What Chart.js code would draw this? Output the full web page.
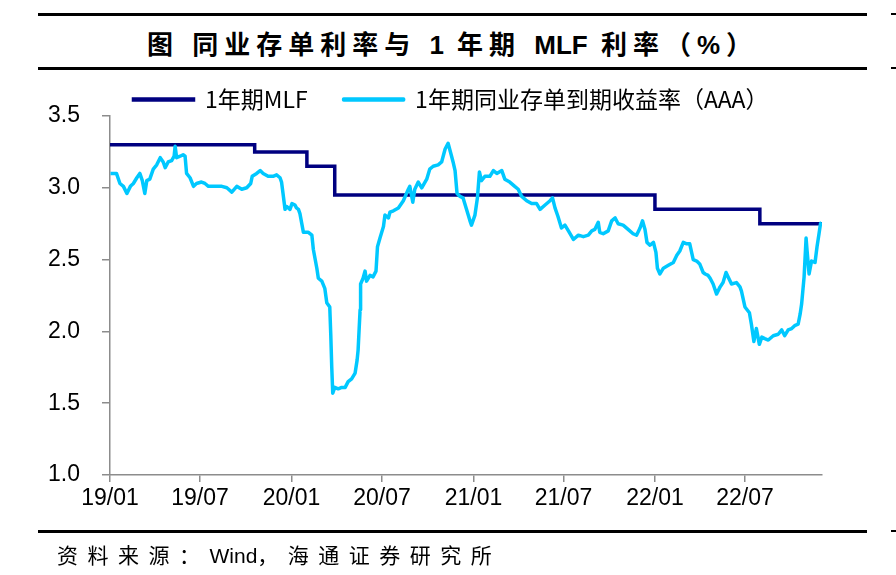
<!DOCTYPE html>
<html>
<head>
<meta charset="utf-8">
<script src="https://cdn.jsdelivr.net/npm/chart.js@4/dist/chart.umd.min.js"></script>
<style>
  body { margin: 0; background: #fff; }
  #wrap { position: relative; width: 896px; height: 575px; overflow: hidden; }
  .rule { position: absolute; left: 38px; width: 829px; height: 3px; background: #000; }
  .edge { position: absolute; left: 891px; width: 5px; height: 2px; background: #000; }
  #title {
    position: absolute; left: 38px; width: 829px; top: 24px; height: 36px; line-height: 36px;
    text-align: center; font: bold 26px "Liberation Sans", "Noto Sans CJK SC", sans-serif;
    letter-spacing: 6px; color: #000;
  }
  #source {
    position: absolute; left: 57px; top: 539px; line-height: 26px;
    font: 21px "Liberation Sans", "Noto Sans CJK SC", sans-serif; letter-spacing: 9.5px; color: #000;
  }
  .lat { letter-spacing: 0; }
  canvas { position: absolute; left: 0; top: 0; }
</style>
</head>
<body>
<div id="wrap">
  <div class="rule" style="top:13px"></div>
  <div class="rule" style="top:67px"></div>
  <div class="rule" style="top:530px"></div>
  <div class="edge" style="top:13px"></div>
  <div class="edge" style="top:67px"></div>
  <div class="edge" style="top:530px"></div>
  <div id="title">图 同业存单利率与 <span class="lat">1</span> 年期 <span class="lat">MLF</span> 利率（%）</div>
  <canvas id="myChart" width="896" height="575"></canvas>
  <div id="source">资料来源：<span class="lat">Wind</span>，海通证券研究所</div>
</div>
<script>
// 1年期MLF（调整日期与利率）
const mlfDates = ['2019-01-01', '2019-10-19', '2020-02-01', '2020-03-28', '2022-01-01', '2022-07-31', '2022-12-03'];
const mlfValues = [3.30, 3.25, 3.15, 2.95, 2.85, 2.75, 2.75];

// 1年期同业存单到期收益率（AAA）
const ncdDates = [
  '2019-01-02','2019-01-14','2019-01-21','2019-01-28','2019-02-04','2019-02-11','2019-02-17','2019-02-24',
  '2019-03-02','2019-03-07','2019-03-12','2019-03-16','2019-03-22','2019-03-29','2019-04-05','2019-04-12',
  '2019-04-18','2019-04-22','2019-04-28','2019-05-05','2019-05-10','2019-05-12','2019-05-15','2019-05-22',
  '2019-05-28','2019-06-01','2019-06-04','2019-06-11','2019-06-18','2019-06-24','2019-07-04','2019-07-11',
  '2019-07-18','2019-07-31','2019-08-14','2019-08-24','2019-09-03','2019-09-13','2019-09-23','2019-10-03',
  '2019-10-11','2019-10-14','2019-10-23','2019-10-30','2019-11-05','2019-11-15','2019-11-25','2019-12-02',
  '2019-12-09','2019-12-12','2019-12-15','2019-12-19','2019-12-22','2019-12-29','2020-01-02','2020-01-08',
  '2020-01-11','2020-01-15','2020-01-18','2020-01-25','2020-02-04','2020-02-11','2020-02-14','2020-02-21',
  '2020-02-24','2020-03-02','2020-03-08','2020-03-12','2020-03-18','2020-03-20','2020-03-22','2020-03-24',
  '2020-03-28','2020-04-04','2020-04-11','2020-04-18','2020-04-24','2020-05-01','2020-05-08','2020-05-12',
  '2020-05-14','2020-05-18','2020-05-19','2020-05-24','2020-05-28','2020-05-31','2020-06-07','2020-06-13',
  '2020-06-19','2020-06-22','2020-06-27','2020-07-04','2020-07-07','2020-07-14','2020-07-17','2020-07-24',
  '2020-08-03','2020-08-13','2020-08-23','2020-08-26','2020-09-01','2020-09-05','2020-09-12','2020-09-19',
  '2020-09-29','2020-10-05','2020-10-12','2020-10-22','2020-10-29','2020-11-05','2020-11-11','2020-11-18',
  '2020-11-21','2020-11-25','2020-11-29','2020-12-05','2020-12-11','2020-12-18','2020-12-25','2020-12-28',
  '2021-01-04','2021-01-09','2021-01-13','2021-01-17','2021-01-24','2021-02-03','2021-02-10','2021-02-17',
  '2021-02-27','2021-03-05','2021-03-15','2021-03-25','2021-04-01','2021-04-08','2021-04-18','2021-04-28',
  '2021-05-08','2021-05-15','2021-05-25','2021-06-04','2021-06-09','2021-06-14','2021-06-20','2021-06-27',
  '2021-07-04','2021-07-11','2021-07-21','2021-07-31','2021-08-10','2021-08-20','2021-08-27','2021-09-02',
  '2021-09-09','2021-09-12','2021-09-19','2021-09-29','2021-10-06','2021-10-13','2021-10-19','2021-10-29',
  '2021-11-08','2021-11-18','2021-11-25','2021-12-02','2021-12-07','2021-12-12','2021-12-16','2021-12-22',
  '2021-12-29','2022-01-03','2022-01-06','2022-01-11','2022-01-18','2022-01-28','2022-02-07','2022-02-14',
  '2022-02-20','2022-02-27','2022-03-06','2022-03-12','2022-03-19','2022-03-26','2022-04-01','2022-04-08',
  '2022-04-12','2022-04-18','2022-04-22','2022-04-28','2022-05-05','2022-05-12','2022-05-18','2022-05-24',
  '2022-05-28','2022-06-04','2022-06-14','2022-06-21','2022-06-24','2022-07-01','2022-07-10','2022-07-14',
  '2022-07-19','2022-07-24','2022-07-30','2022-08-04','2022-08-10','2022-08-17','2022-08-27','2022-09-06',
  '2022-09-13','2022-09-19','2022-09-26','2022-10-03','2022-10-09','2022-10-16','2022-10-20','2022-10-23',
  '2022-10-28','2022-11-01','2022-11-03','2022-11-07','2022-11-12','2022-11-19','2022-11-23','2022-11-27',
  '2022-11-30','2022-12-02'
];
const ncdValues = [
  3.10,3.10,3.03,3.01,2.96,3.01,3.03,3.07,
  3.10,3.05,2.96,3.05,3.06,3.13,3.16,3.21,
  3.18,3.14,3.18,3.19,3.22,3.29,3.21,3.22,
  3.23,3.22,3.10,3.07,3.01,3.03,3.04,3.03,
  3.01,3.01,3.01,3.00,2.97,3.01,2.99,3.00,
  3.03,3.08,3.10,3.12,3.10,3.08,3.08,3.09,
  3.07,3.04,2.96,2.85,2.87,2.85,2.89,2.88,
  2.86,2.85,2.82,2.69,2.69,2.67,2.57,2.44,
  2.37,2.35,2.30,2.20,2.17,1.98,1.75,1.57,
  1.61,1.60,1.61,1.61,1.65,1.67,1.71,1.80,
  1.87,2.15,2.33,2.37,2.42,2.35,2.39,2.38,
  2.42,2.59,2.65,2.73,2.81,2.79,2.83,2.84,
  2.86,2.91,2.99,3.01,2.90,2.99,3.04,3.00,
  3.06,3.13,3.15,3.16,3.18,3.27,3.31,3.22,
  3.18,3.12,2.96,2.94,2.93,2.85,2.77,2.74,
  2.81,2.93,3.11,3.05,3.08,3.08,3.12,3.10,
  3.12,3.06,3.04,3.01,2.99,2.94,2.91,2.89,
  2.89,2.85,2.88,2.91,2.93,2.86,2.80,2.72,
  2.74,2.70,2.64,2.67,2.66,2.67,2.70,2.71,
  2.76,2.69,2.68,2.70,2.77,2.79,2.75,2.74,
  2.71,2.68,2.67,2.72,2.77,2.71,2.62,2.60,
  2.62,2.55,2.44,2.40,2.44,2.46,2.48,2.53,
  2.56,2.62,2.61,2.61,2.50,2.49,2.47,2.41,
  2.40,2.39,2.37,2.33,2.26,2.31,2.34,2.41,
  2.38,2.33,2.34,2.31,2.28,2.17,2.13,2.05,
  1.93,2.02,1.91,1.96,1.95,1.94,1.97,1.98,
  2.01,1.97,2.01,2.02,2.04,2.05,2.12,2.19,
  2.38,2.65,2.56,2.40,2.49,2.48,2.59,2.68,
  2.75,2.76
];

// x轴刻度
const tickDates = ['2019-01-01', '2019-07-01', '2020-01-01', '2020-07-01', '2021-01-01', '2021-07-01', '2022-01-01', '2022-07-01'];
const tickLabels = ['19/01', '19/07', '20/01', '20/07', '21/01', '21/07', '22/01', '22/07'];
const endDate = '2022-12-03';

// 日期 -> 距 2019-01-01 的天数
const day0 = Date.UTC(2019, 0, 1);
const toDay = s => {
  const p = s.split('-');
  return (Date.UTC(+p[0], +p[1] - 1, +p[2]) - day0) / 86400000;
};
const tickDays = tickDates.map(toDay);

const mlfData = mlfDates.map((d, i) => ({ x: toDay(d), y: mlfValues[i] }));
const ncdData = ncdDates.map((d, i) => ({ x: toDay(d), y: ncdValues[i] }));

// 图例位置微调
const legendShift = {
  id: 'legendShift',
  afterLayout(chart) {
    const lg = chart.legend;
    lg.top += 5; lg.bottom += 5;
    lg.left += 40; lg.right += 40;
  }
};

const axisGray = '#8c8c8c';
const ctx = document.getElementById('myChart');

new Chart(ctx, {
  type: 'line',
  data: {
    datasets: [{
      label: '1年期MLF',
      data: mlfData,
      borderColor: '#000080',
      backgroundColor: '#000080',
      borderWidth: 3.5,
      stepped: true,
      pointRadius: 0,
      order: 1
    }, {
      label: '1年期同业存单到期收益率（AAA）',
      data: ncdData,
      borderColor: '#00C8FF',
      backgroundColor: '#00C8FF',
      borderWidth: 3.5,
      tension: 0,
      borderJoinStyle: 'round',
      pointRadius: 0,
      order: 0
    }]
  },
  options: {
    responsive: false,
    animation: false,
    layout: { padding: { left: 0, right: 74, top: 47, bottom: 0 } },
    plugins: {
      legend: {
        position: 'top',
        labels: {
          boxWidth: 60,
          boxHeight: 1,
          padding: 36,
          color: '#000',
          font: { family: '"Noto Sans CJK SC", sans-serif', size: 23 },
          sort: (a, b) => a.datasetIndex - b.datasetIndex
        }
      },
      tooltip: { enabled: false }
    },
    scales: {
      x: {
        type: 'linear',
        min: 0,
        max: toDay(endDate),
        afterFit: s => { s.height = 100; },
        afterBuildTicks: s => { s.ticks = tickDays.map(v => ({ value: v })); },
        grid: { drawOnChartArea: false, tickLength: 7, color: axisGray, lineWidth: 1.5 },
        border: { color: axisGray, width: 1.5 },
        ticks: {
          autoSkip: false,
          maxRotation: 0,
          padding: 3,
          color: '#000',
          font: { family: '"Liberation Sans", Arial, sans-serif', size: 23 },
          callback: (v, i) => tickLabels[i]
        }
      },
      y: {
        min: 1.0,
        max: 3.5,
        afterFit: s => { s.width = 110; },
        grid: { drawOnChartArea: false, tickLength: 8, color: axisGray, lineWidth: 1.5 },
        border: { color: axisGray, width: 1.5 },
        ticks: {
          stepSize: 0.5,
          padding: 22,
          color: '#000',
          font: { family: '"Liberation Sans", Arial, sans-serif', size: 23 },
          callback: v => v.toFixed(1)
        }
      }
    }
  },
  plugins: [legendShift]
});
</script>
</body>
</html>
